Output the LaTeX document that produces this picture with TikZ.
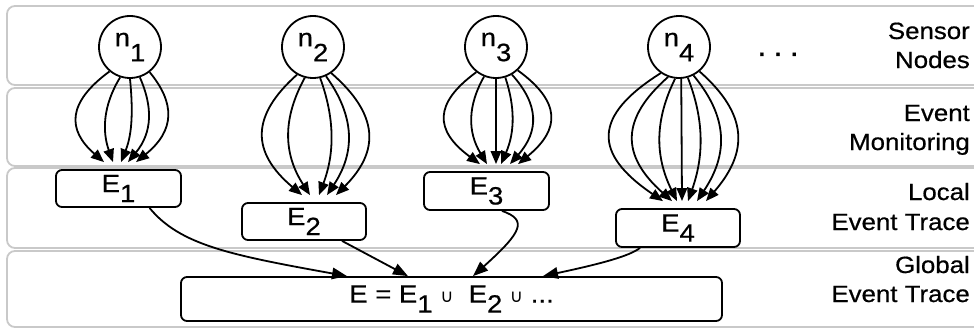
\documentclass[tikz,border=0pt]{standalone}
\usepackage{fontspec}
\setmainfont{Liberation Sans}[FakeStretch=1.1,FakeBold=0.6]
\newfontfamily\symfont{DejaVu Sans}
\usetikzlibrary{arrows.meta}

\begin{document}
\begin{tikzpicture}[x=1pt,y=-1pt,
  band/.style={draw=black!21, line width=1.8pt, rounded corners=8pt},
  sensor/.style={circle, draw, line width=1.8pt, minimum size=62pt, inner sep=0pt,
    font=\fontsize{25}{25}\selectfont},
  trace/.style={draw, line width=1.8pt, rounded corners=6pt, inner sep=0pt,
    font=\fontsize{25}{25}\selectfont},
  layer/.style={anchor=base east, inner sep=0pt, font=\fontsize{23.5}{23.5}\selectfont},
  fan/.style={line width=1.8pt, -{Triangle[length=13pt,width=10.5pt]}},
  merge/.style={line width=1.8pt, -{Triangle[length=15pt,width=11.5pt]}}]

\useasboundingbox (0,0) rectangle (974,329);

% horizontal layers
\draw[band] (7,6) rectangle (990,85);
\draw[band] (7,88) rectangle (990,166);
\draw[band] (7,168) rectangle (990,248);
\draw[band] (7,251) rectangle (990,327);

% layer captions
\node[layer] (l1a) at (970,39) {Sensor};
\node[layer] (l1b) at (970,68) {Nodes};
\node[layer] (l2a) at (970,121) {Event};
\node[layer] (l2b) at (970,150) {Monitoring};
\node[layer] (l3a) at (970,200) {Local};
\node[layer] (l3b) at (970,230) {Event Trace};
\node[layer] (l4a) at (970,273) {Global};
\node[layer] (l4b) at (970,302) {Event Trace};

% sensor nodes
\node[sensor] (n1) at (130,47) {n\raisebox{-15pt}{1}};
\node[sensor] (n2) at (313,47) {n\raisebox{-15pt}{2}};
\node[sensor] (n3) at (496,47) {n\raisebox{-15pt}{3}};
\node[sensor] (n4) at (679,47) {n\raisebox{-15pt}{4}};
\node[anchor=base, inner sep=0pt, font=\fontsize{30}{30}\selectfont] (more) at (778,56) {.\hspace{7pt}.\hspace{7pt}.};

% local traces
\node[trace, minimum width=125pt, minimum height=37pt] (E1) at (118.5,188.5) {E\raisebox{-10pt}{1}};
\node[trace, minimum width=124pt, minimum height=37pt] (E2) at (304,221.5) {E\raisebox{-10pt}{2}};
\node[trace, minimum width=125pt, minimum height=38pt] (E3) at (486.5,191) {E\raisebox{-10pt}{3}};
\node[trace, minimum width=124pt, minimum height=38pt] (E4) at (678,228) {E\raisebox{-10pt}{4}};

% global trace
\node[trace, minimum width=541pt, minimum height=44pt] (G) at (451.5,299)
  {E = E\raisebox{-10pt}{1} {\symfont\fontsize{18}{18}\selectfont ∪}\ \ E\raisebox{-10pt}{2} {\symfont\fontsize{18}{18}\selectfont ∪} ...};

% monitored events n1 -> E1
\draw[fan] (n1.-130) .. controls (67,102.7) and (67,130) .. ([xshift=-14.5pt,yshift=7pt]E1.north);
\draw[fan] (n1.-108) .. controls (102.4,106.4) and (102.4,132.1) .. ([xshift=-5.5pt,yshift=7pt]E1.north);
\draw[fan] (n1.-90) .. controls (132.8,107.4) and (132.8,132.6) .. ([xshift=2.5pt,yshift=7pt]E1.north);
\draw[fan] (n1.-72) .. controls (152.7,106.4) and (152.7,132.1) .. ([xshift=9.5pt,yshift=7pt]E1.north);
\draw[fan] (n1.-52) .. controls (175.2,103.1) and (175.2,130.3) .. ([xshift=17.5pt,yshift=7pt]E1.north);

% monitored events n2 -> E2
\draw[fan] (n2.-120) .. controls (250.8,115.9) and (250.8,151.9) .. ([xshift=-2pt,yshift=7pt]E2.north);
\draw[fan] (n2.-105) .. controls (282.8,117.9) and (282.8,153) .. ([xshift=6pt,yshift=7pt]E2.north);
\draw[fan] (n2.-77) .. controls (334.8,118.1) and (334.8,153.1) .. ([xshift=15pt,yshift=7pt]E2.north);
\draw[fan] (n2.-66) .. controls (355.2,116.8) and (355.2,152.5) .. ([xshift=23pt,yshift=7pt]E2.north);
\draw[fan] (n2.-55) .. controls (379.5,115) and (379.5,151.4) .. ([xshift=32pt,yshift=7pt]E2.north);

% monitored events n3 -> E3
\draw[fan] (n3.-128) .. controls (433.9,103.1) and (433.9,130.3) .. ([xshift=-6.5pt,yshift=7pt]E3.north);
\draw[fan] (n3.-112) .. controls (467.5,105.9) and (467.5,131.8) .. ([xshift=0.5pt,yshift=7pt]E3.north);
\draw[fan] (n3.-90) -- ([xshift=9.5pt,yshift=7pt]E3.north);
\draw[fan] (n3.-73) .. controls (515,106.5) and (515,132.1) .. ([xshift=14.5pt,yshift=7pt]E3.north);
\draw[fan] (n3.-60) .. controls (539.1,104.7) and (539.1,131.1) .. ([xshift=23.5pt,yshift=7pt]E3.north);
\draw[fan] (n3.-47) .. controls (560.8,101.7) and (560.8,129) .. ([xshift=31.5pt,yshift=7pt]E3.north);

% monitored events n4 -> E4
\draw[fan] (n4.-125) .. controls (592.7,116) and (592.7,153.4) .. ([xshift=-15pt,yshift=7pt]E4.north);
\draw[fan] (n4.-110) .. controls (620.6,118.8) and (620.6,155.3) .. ([xshift=-6pt,yshift=7pt]E4.north);
\draw[fan] (n4.-97) .. controls (654.7,119.9) and (654.7,155.9) .. ([xshift=-1pt,yshift=7pt]E4.north);
\draw[fan] (n4.-86) -- ([xshift=4pt,yshift=7pt]E4.north);
\draw[fan] (n4.-74) .. controls (704.1,119.2) and (704.1,155.6) .. ([xshift=10pt,yshift=7pt]E4.north);
\draw[fan] (n4.-63) .. controls (728.3,117.4) and (728.3,154.2) .. ([xshift=19pt,yshift=7pt]E4.north);
\draw[fan] (n4.-50) .. controls (748.5,114.6) and (748.5,152.1) .. ([xshift=28pt,yshift=7pt]E4.north);

% merging local traces into the global trace
\draw[merge] ([xshift=31pt]E1.south) .. controls (180,245) and (230,255) .. ([xshift=-104.5pt]G.north);
\draw[merge] ([xshift=38pt]E2.south) -- ([xshift=-43.5pt]G.north);
\draw[merge] ([xshift=15.5pt]E3.south) .. controls (528,220) and (522,232) .. ([xshift=21.5pt]G.north);
\draw[merge] ([xshift=-38pt]E4.south) .. controls (630,256) and (600,264) .. ([xshift=91.5pt]G.north);
\end{tikzpicture}
\end{document}
